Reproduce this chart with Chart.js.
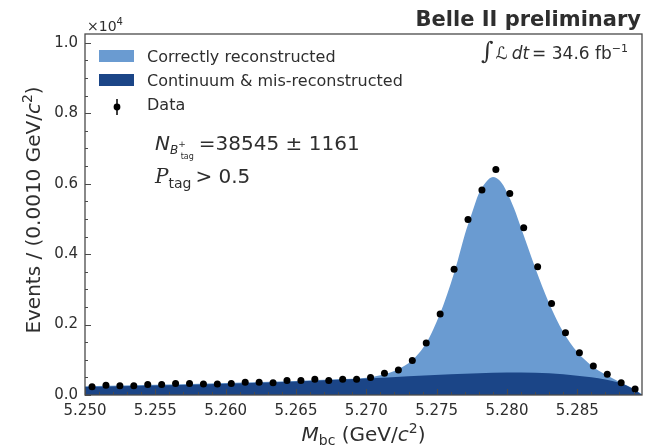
<!DOCTYPE html>
<html>
<head>
<meta charset="utf-8">
<script src="https://cdn.jsdelivr.net/npm/chart.js@4.4.1/dist/chart.umd.min.js"></script>
<style>
  html, body { margin: 0; padding: 0; background: #fff; }
  canvas { display: block; }
</style>
</head>
<body>
<canvas id="mbc" width="664" height="448"></canvas>
<script>
// M_bc of B+ tag candidates, 40 bins between 5.250 and 5.2896
const binCentres = [5.25050, 5.25149, 5.25248, 5.25347, 5.25446, 5.25545, 5.25644, 5.25743, 5.25842, 5.25941,
                    5.26040, 5.26139, 5.26238, 5.26337, 5.26436, 5.26535, 5.26634, 5.26733, 5.26832, 5.26931,
                    5.27030, 5.27129, 5.27228, 5.27327, 5.27426, 5.27525, 5.27624, 5.27723, 5.27822, 5.27921,
                    5.28020, 5.28119, 5.28218, 5.28317, 5.28416, 5.28515, 5.28614, 5.28713, 5.28812, 5.28911];
const dataCounts = [235, 280, 260, 262, 300, 300, 330, 330, 312, 312,
                    330, 360, 360, 350, 410, 410, 450, 410, 445, 445,
                    500, 620, 710, 980, 1480, 2300, 3570, 4980, 5820, 6400,
                    5720, 4750, 3640, 2600, 1770, 1200, 820, 590, 350, 170];

// full fit: correctly reconstructed stacked on the rest
const fitMass = [5.2500, 5.2550, 5.2600, 5.2650, 5.2680, 5.2700, 5.2710, 5.2720, 5.2725, 5.2730,
                 5.2735, 5.2740, 5.2745, 5.2750, 5.2755, 5.2760, 5.2765, 5.2770, 5.2775, 5.2780,
                 5.2785, 5.2790, 5.2795, 5.2800, 5.2805, 5.2810, 5.2815, 5.2820, 5.2830, 5.2840,
                 5.2850, 5.2860, 5.2870, 5.2880, 5.2890, 5.2896];
const fitTotal = [245, 290, 340, 400, 445, 490, 560, 680, 780, 900,
                  1080, 1320, 1650, 2080, 2580, 3160, 3820, 4550, 5150, 5720,
                  6040, 6190, 6080, 5760, 5300, 4750, 4180, 3620, 2600, 1790,
                  1220, 840, 580, 370, 175, 20];

// continuum & mis-reconstructed component
const bkgMass = [5.2500, 5.2550, 5.2600, 5.2650, 5.2700, 5.2730, 5.2760, 5.2790, 5.2810, 5.2830,
                 5.2850, 5.2860, 5.2870, 5.2880, 5.2886, 5.2891, 5.2896];
const bkgCounts = [225, 268, 318, 380, 465, 530, 590, 635, 640, 615,
                   550, 505, 440, 345, 250, 140, 0];

const xTicks = [5.250, 5.255, 5.260, 5.265, 5.270, 5.275, 5.280, 5.285];
const yTicks = [0, 2000, 4000, 6000, 8000, 10000];

const lightBlue = '#6a9bd1';
const darkBlue = '#1b4587';
const ink = '#2e2e2e';
const FONT = '"DejaVu Sans", sans-serif';

function toPoints(xs, ys) {
    return xs.map((x, i) => ({ x: x, y: ys[i] }));
}

// writes a run of pieces (plain, italic, sub/superscripts) on one baseline
function richText(ctx, x, y, parts, align) {
    let w = 0;
    for (const p of parts) {
        ctx.font = p.font;
        w += ctx.measureText(p.t).width + (p.gap || 0);
    }
    let cx = x;
    if (align === 'right') cx = x - w;
    if (align === 'center') cx = x - w / 2;
    for (const p of parts) {
        ctx.font = p.font;
        ctx.fillText(p.t, cx, y + (p.dy || 0));
        cx += ctx.measureText(p.t).width + (p.gap || 0);
    }
}

// frame, inward ticks, axis titles, legend and labels
const decor = {
    id: 'decor',
    afterDraw(chart) {
        const ctx = chart.ctx;
        const a = chart.chartArea;
        const xs = chart.scales.x;
        const ys = chart.scales.y;
        ctx.save();

        ctx.strokeStyle = '#4a4a4a';
        ctx.lineWidth = 1.3;
        ctx.strokeRect(a.left, a.top, a.right - a.left, a.bottom - a.top);

        ctx.lineWidth = 1;
        ctx.beginPath();
        for (let v = 0; v <= ys.max; v += 500) {
            const py = Math.round(ys.getPixelForValue(v)) + 0.5;
            const len = v % 2000 === 0 ? 6 : 3;
            ctx.moveTo(a.left, py);
            ctx.lineTo(a.left + len, py);
        }
        for (let k = 0; k <= 39; k++) {
            const v = 5.25 + k * 0.001;
            const px = Math.round(xs.getPixelForValue(v)) + 0.5;
            const len = k % 5 === 0 ? 6 : 3;
            ctx.moveTo(px, a.bottom);
            ctx.lineTo(px, a.bottom - len);
        }
        ctx.stroke();

        ctx.fillStyle = ink;
        ctx.textBaseline = 'alphabetic';

        // multiplier above the y axis
        richText(ctx, 87, 31, [
            { t: '×10', font: '14px ' + FONT },
            { t: '4', font: '10px ' + FONT, dy: -6 }
        ], 'left');

        richText(ctx, 641, 26, [
            { t: 'Belle II preliminary', font: 'bold 21px ' + FONT }
        ], 'right');

        // x title
        richText(ctx, (a.left + a.right) / 2, 441, [
            { t: 'M', font: 'italic 20px ' + FONT },
            { t: 'bc', font: '14px ' + FONT, dy: 4 },
            { t: ' (GeV/', font: '20px ' + FONT },
            { t: 'c', font: 'italic 20px ' + FONT },
            { t: '2', font: '14px ' + FONT, dy: -8 },
            { t: ')', font: '20px ' + FONT }
        ], 'center');

        // y title
        ctx.save();
        ctx.translate(40, 210);
        ctx.rotate(-Math.PI / 2);
        richText(ctx, 0, 0, [
            { t: 'Events / (0.0010 GeV/', font: '20px ' + FONT },
            { t: 'c', font: 'italic 20px ' + FONT },
            { t: '2', font: '14px ' + FONT, dy: -8 },
            { t: ')', font: '20px ' + FONT }
        ], 'center');
        ctx.restore();

        // legend
        ctx.fillStyle = lightBlue;
        ctx.fillRect(99, 50, 35, 12);
        ctx.fillStyle = darkBlue;
        ctx.fillRect(99, 74, 35, 12);
        ctx.strokeStyle = '#000';
        ctx.lineWidth = 1.5;
        ctx.beginPath();
        ctx.moveTo(117, 99);
        ctx.lineTo(117, 115);
        ctx.stroke();
        ctx.fillStyle = '#000';
        ctx.beginPath();
        ctx.arc(117, 107, 3.4, 0, Math.PI * 2);
        ctx.fill();

        ctx.fillStyle = ink;
        richText(ctx, 147, 62, [{ t: 'Correctly reconstructed', font: '16px ' + FONT }], 'left');
        richText(ctx, 147, 86, [{ t: 'Continuum & mis-reconstructed', font: '16px ' + FONT }], 'left');
        richText(ctx, 147, 110, [{ t: 'Data', font: '16px ' + FONT }], 'left');

        // luminosity
        richText(ctx, 628, 59, [
            { t: '∫', font: '24px "DejaVu Serif", serif', gap: 2 },
            { t: 'ℒ', font: 'italic 17px ' + FONT, gap: 4 },
            { t: 'dt', font: 'italic 17px ' + FONT, gap: 3 },
            { t: '= 34.6 fb', font: '17px ' + FONT },
            { t: '−1', font: '11px ' + FONT, dy: -7 }
        ], 'right');

        // yield and selection
        richText(ctx, 155, 150, [
            { t: 'N', font: 'italic 20px ' + FONT },
            { t: 'B', font: 'italic 12px ' + FONT, dy: 4 },
            { t: '+', font: '9px ' + FONT, dy: -3, gap: -5 },
            { t: 'tag', font: '8px ' + FONT, dy: 9, gap: 5 },
            { t: '=38545 ± 1161', font: '20px ' + FONT }
        ], 'left');
        richText(ctx, 155, 183, [
            { t: 'P', font: 'italic 20px "DejaVu Serif", serif' },
            { t: 'tag', font: '14px ' + FONT, dy: 5, gap: 4 },
            { t: '> 0.5', font: '20px ' + FONT }
        ], 'left');

        ctx.restore();
    }
};

new Chart(document.getElementById('mbc').getContext('2d'), {
    type: 'line',
    data: {
        datasets: [
            {
                label: 'Data',
                type: 'scatter',
                data: toPoints(binCentres, dataCounts),
                showLine: false,
                pointRadius: 3.5,
                pointBackgroundColor: '#000',
                pointBorderColor: '#000',
                pointBorderWidth: 0,
                order: 1
            },
            {
                label: 'Continuum & mis-reconstructed',
                data: toPoints(bkgMass, bkgCounts),
                fill: 'origin',
                backgroundColor: darkBlue,
                borderWidth: 0,
                pointRadius: 0,
                cubicInterpolationMode: 'monotone',
                order: 2
            },
            {
                label: 'Correctly reconstructed',
                data: toPoints(fitMass, fitTotal),
                fill: 'origin',
                backgroundColor: lightBlue,
                borderWidth: 0,
                pointRadius: 0,
                cubicInterpolationMode: 'monotone',
                order: 3
            }
        ]
    },
    options: {
        responsive: false,
        animation: false,
        layout: { padding: { left: 0, top: 34, right: 22, bottom: 0 } },
        plugins: {
            legend: { display: false },
            tooltip: { enabled: false }
        },
        scales: {
            x: {
                type: 'linear',
                min: 5.25,
                max: 5.2896,
                afterBuildTicks: s => { s.ticks = xTicks.map(v => ({ value: v })); },
                afterFit: s => { s.height = 53; },
                grid: { display: false, drawTicks: false },
                border: { display: false },
                ticks: {
                    autoSkip: false,
                    maxRotation: 0,
                    padding: 7,
                    color: ink,
                    font: { family: FONT, size: 15 },
                    callback: v => v.toFixed(3)
                }
            },
            y: {
                type: 'linear',
                min: 0,
                max: 10250,
                afterBuildTicks: s => { s.ticks = yTicks.map(v => ({ value: v })); },
                afterFit: s => { s.width = 85; },
                grid: { display: false, drawTicks: false },
                border: { display: false },
                ticks: {
                    padding: 7,
                    color: ink,
                    font: { family: FONT, size: 15 },
                    callback: v => (v / 1e4).toFixed(1)
                }
            }
        }
    },
    plugins: [decor]
});
</script>
</body>
</html>
